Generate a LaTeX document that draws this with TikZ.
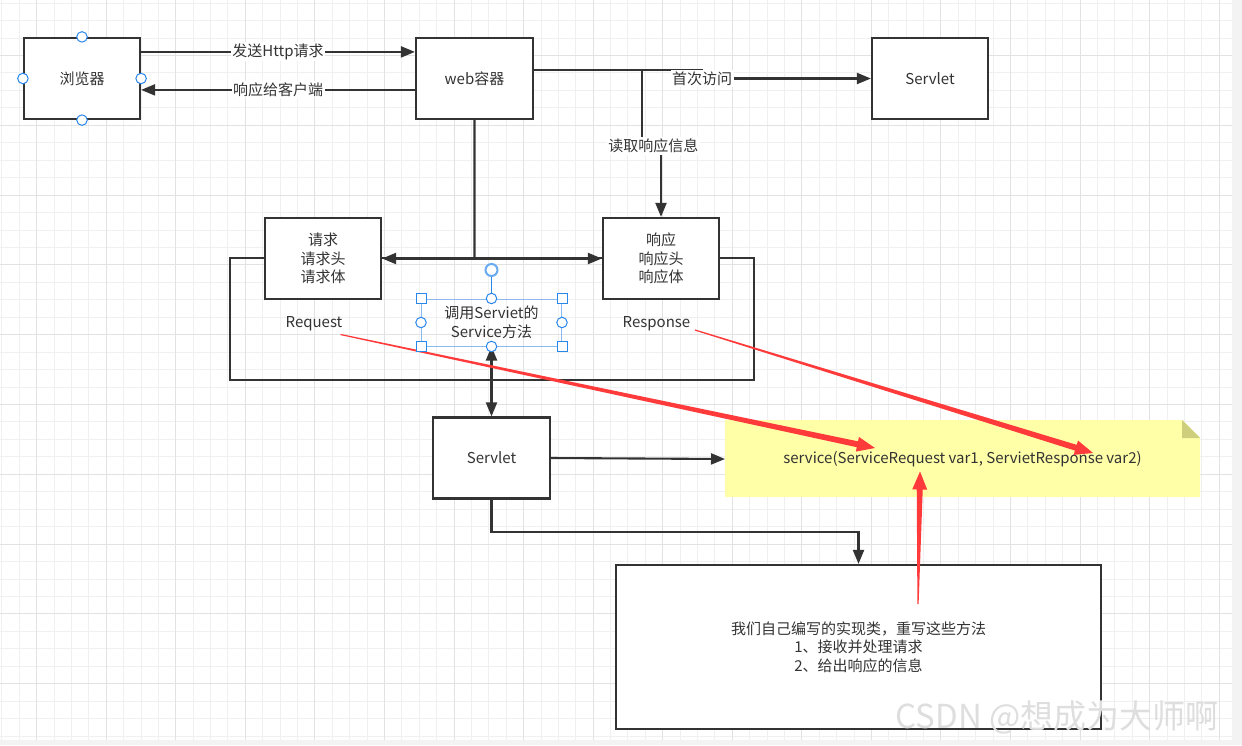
\documentclass[tikz,border=0pt]{standalone}
\usepackage{fontspec}
\setmainfont{Noto Sans CJK SC}
\definecolor{LineGray}{RGB}{51, 51, 51}
\definecolor{GridMinor}{RGB}{240, 240, 240}
\definecolor{GridMajor}{RGB}{226, 226, 226}
\definecolor{Canvas}{RGB}{243, 243, 243}
\definecolor{NoteYellow}{RGB}{255, 255, 168}
\definecolor{NoteFold}{RGB}{206, 206, 124}
\definecolor{RedInk}{RGB}{255, 58, 58}
\definecolor{SelBlue}{RGB}{41, 135, 235}
\definecolor{SelLight}{RGB}{140, 185, 240}
\usepackage{tikz}
\usetikzlibrary{arrows.meta, positioning, calc}
\newcommand{\diagfont}{\fontsize{15pt}{18.5pt}\selectfont}
\newcommand{\taperarrow}[2]{%
  \coordinate (hb) at ($(#2)!18pt!(#1)$);
  \fill[RedInk] ($(#1)!0.6pt!90:(#2)$) -- ($(hb)!3pt!-90:(#1)$) -- ($(hb)!7.5pt!-90:(#1)$) -- (#2)
    -- ($(hb)!7.5pt!90:(#1)$) -- ($(hb)!3pt!90:(#1)$) -- ($(#1)!0.6pt!-90:(#2)$) -- cycle;}

\begin{document}
\begin{tikzpicture}[x=1pt, y=-1pt,
        box/.style={rectangle, draw=LineGray, line width=2.2pt, fill=white, minimum width=116pt, minimum height=81pt, align=center, font=\diagfont, text=LineGray, inner sep=0pt},
        groupbox/.style={rectangle, draw=LineGray, line width=1.9pt, minimum width=524pt, minimum height=122pt, inner sep=0pt},
        callbox/.style={rectangle, draw=SelLight, line width=1pt, minimum width=140pt, minimum height=47pt, align=center, font=\diagfont, text=LineGray, inner sep=0pt},
        plain/.style={inner sep=1pt, font=\diagfont, text=LineGray, align=center},
        lbl/.style={fill=white, inner sep=1.5pt, font=\diagfont, text=LineGray},
        line/.style={draw=LineGray, line width=2.1pt},
        arrow/.style={line, -{Triangle[length=14pt, width=11pt]}},
        dblarrow/.style={line, {Triangle[length=14pt, width=11pt]}-{Triangle[length=14pt, width=11pt]}},
        sqhandle/.style={rectangle, draw=SelBlue, fill=white, line width=1pt, minimum size=10pt, inner sep=0pt},
        cirhandle/.style={circle, draw=SelBlue, fill=white, line width=1pt, minimum size=10.5pt, inner sep=0pt},
        wmark/.style={font=\fontsize{33pt}{33pt}\selectfont, text=black!13}
    ]
        \useasboundingbox (0,0) rectangle (1242,745);
        \fill[Canvas] (0,0) rectangle (1242,745);
        \fill[white] (0,0) rectangle (1232,740);
        \foreach \k in {0,...,70}
            \draw[GridMinor, line width=1pt] ({1.92+17.39*\k},0) -- ({1.92+17.39*\k},740);
        \foreach \k in {0,...,42}
            \draw[GridMinor, line width=1pt] (0,{3.15+17.45*\k}) -- (1232,{3.15+17.45*\k});
        \foreach \k in {0,...,17}
            \draw[GridMajor, line width=1pt] ({36.7+69.56*\k},0) -- ({36.7+69.56*\k},740);
        \foreach \k in {0,...,9}
            \draw[GridMajor, line width=1pt] (0,{55.5+69.8*\k}) -- (1232,{55.5+69.8*\k});

        \node[box] (browser) at (82,78.5) {浏览器};
        \node[box, minimum width=117pt, right=273.8pt of browser] (web) {web容器};
        \node[box, right=336.8pt of web] (servletA) {Servlet};
        \node[groupbox] (group) at (492,319) {};
        \node[box] (request) at (323,258.5) {请求\\请求头\\请求体};
        \node[box] (response) at (661,258.5) {响应\\响应头\\响应体};
        \node[plain] (reqtext) at (314,323.5) {Request};
        \node[plain] (restext) at (656.5,323.5) {Response};
        \node[callbox] (call) at (491.5,322.5) {调用Serviet的\\Service方法};
        \node[box, minimum width=117pt] (servletB) at (491.5,458) {Servlet};
        \fill[NoteYellow] (725,420) -- (1182,420) -- (1200,438) -- (1200,497) -- (725,497) -- cycle;
        \fill[NoteFold] (1182,420) -- (1182,438) -- (1200,438) -- cycle;
        \node[plain, minimum width=475pt, minimum height=77pt, outer sep=0pt] (note) at (962.5,459) {service(ServiceRequest var1, ServietResponse var2)};
        \node[box, minimum width=485pt, minimum height=164pt] (impl) at (858.5,647) {我们自己编写的实现类，重写这些方法\\1、接收并处理请求\\2、给出响应的信息};
        \node[wmark] (csdnmark) at (1057,717) {CSDN @想成为大师啊};

        \draw[arrow] ([yshift=-15pt]browser.north east) -- node[lbl] {发送Http请求} ([yshift=-15pt]web.north west);
        \draw[arrow] ([yshift=-53pt]web.north west) -- node[lbl] {响应给客户端} ([yshift=-53pt]browser.north east);
        \coordinate (turnA) at (702,70);
        \coordinate (turnB) at (642,70);
        \coordinate (turnC) at (661,146);
        \draw[arrow] (web.east |- turnA) -- (turnA) |- node[lbl, pos=0.5] {首次访问} (servletA);
        \draw[arrow] (turnB) |- node[lbl, pos=0.8] {读取响应信息} (turnC) -- (turnC |- response.north);
        \coordinate (split) at (474.5,258.5);
        \draw[line] (web.south) -- (split);
        \draw[arrow] (split) -- (request.east);
        \draw[arrow] (split) -- (response.west);
        \draw[dblarrow] (call.south) -- (servletB.north);
        \draw[arrow] (servletB.east) -- (note.west);
        \coordinate (bend) at (858.5,532);
        \draw[arrow] (servletB.south) |- (bend) -- (impl.north);

        \coordinate (reqtail) at (340.5,334.5);
        \coordinate (reqtip) at (875,448);
        \coordinate (restail) at (695,330);
        \coordinate (restip) at (1093,453);
        \coordinate (impltail) at (918,604);
        \coordinate (impltip) at (920,471.5);
        \taperarrow{reqtail}{reqtip}
        \taperarrow{restail}{restip}
        \taperarrow{impltail}{impltip}

        \coordinate (rotpin) at (491.5,270);
        \draw[SelBlue, line width=1pt] (call.north) -- (rotpin);
        \node[circle, draw=SelBlue!70, fill=white, line width=2pt, minimum size=12pt, inner sep=0pt] (rotate) at (rotpin) {};
        \foreach \a [count=\i] in {north west, north east, south west, south east}
            \node[sqhandle] (hs\i) at (call.\a) {};
        \foreach \a [count=\i] in {north, south, east, west}
            \node[cirhandle] (hc\i) at (call.\a) {};
        \foreach \a [count=\i] in {north, south, east, west}
            \node[cirhandle] (hb\i) at (browser.\a) {};
    \end{tikzpicture}
\end{document}
